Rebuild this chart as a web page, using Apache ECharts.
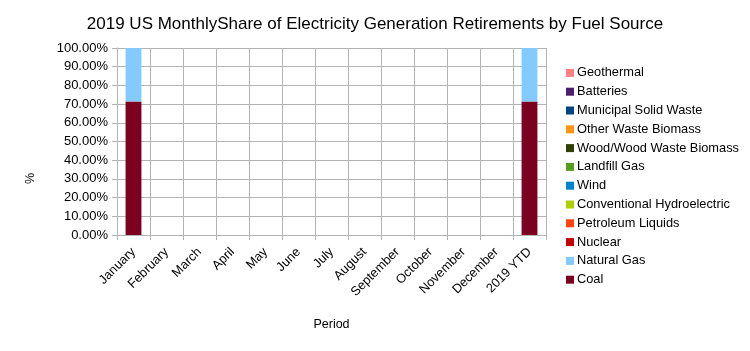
<!DOCTYPE html>
<html>
<head>
<meta charset="utf-8">
<script src="https://cdn.jsdelivr.net/npm/echarts@6/dist/echarts.min.js"></script>
<style>
  html, body { margin: 0; padding: 0; background: #fff; }
  #chart { width: 750px; height: 351px; }
</style>
</head>
<body>
<div id="chart"></div>
<script>
  // 类别
  var periods = ['January', 'February', 'March', 'April', 'May', 'June', 'July',
    'August', 'September', 'October', 'November', 'December', '2019 YTD'];

  // share by fuel (fraction of total), bottom of stack first
  var coal = [0.714, 0, 0, 0, 0, 0, 0, 0, 0, 0, 0, 0, 0.714];
  var naturalGas = [0.286, 0, 0, 0, 0, 0, 0, 0, 0, 0, 0, 0, 0.286];
  var nuclear = [0, 0, 0, 0, 0, 0, 0, 0, 0, 0, 0, 0, 0];
  var petroleumLiquids = [0, 0, 0, 0, 0, 0, 0, 0, 0, 0, 0, 0, 0];
  var hydro = [0, 0, 0, 0, 0, 0, 0, 0, 0, 0, 0, 0, 0];
  var wind = [0, 0, 0, 0, 0, 0, 0, 0, 0, 0, 0, 0, 0];
  var landfillGas = [0, 0, 0, 0, 0, 0, 0, 0, 0, 0, 0, 0, 0];
  var woodBiomass = [0, 0, 0, 0, 0, 0, 0, 0, 0, 0, 0, 0, 0];
  var otherBiomass = [0, 0, 0, 0, 0, 0, 0, 0, 0, 0, 0, 0, 0];
  var msw = [0, 0, 0, 0, 0, 0, 0, 0, 0, 0, 0, 0, 0];
  var batteries = [0, 0, 0, 0, 0, 0, 0, 0, 0, 0, 0, 0, 0];
  var geothermal = [0, 0, 0, 0, 0, 0, 0, 0, 0, 0, 0, 0, 0];

  var fuels = [
    { name: 'Coal', color: '#7e0021', data: coal },
    { name: 'Natural Gas', color: '#83caff', data: naturalGas },
    { name: 'Nuclear', color: '#c5000b', data: nuclear },
    { name: 'Petroleum Liquids', color: '#ff420e', data: petroleumLiquids },
    { name: 'Conventional Hydroelectric', color: '#aecf00', data: hydro },
    { name: 'Wind', color: '#0084d1', data: wind },
    { name: 'Landfill Gas', color: '#579d1c', data: landfillGas },
    { name: 'Wood/Wood Waste Biomass', color: '#314004', data: woodBiomass },
    { name: 'Other Waste Biomass', color: '#ff950e', data: otherBiomass },
    { name: 'Municipal Solid Waste', color: '#004586', data: msw },
    { name: 'Batteries', color: '#4b1f6f', data: batteries },
    { name: 'Geothermal', color: '#ff8080', data: geothermal }
  ];

  var font = 'Liberation Sans, Arial, sans-serif';
  var chart = echarts.init(document.getElementById('chart'));

  chart.setOption({
    animation: false,
    textStyle: { fontFamily: font },
    title: {
      text: '2019 US MonthlyShare of Electricity Generation Retirements by Fuel Source',
      left: 'center',
      top: 11,
      textStyle: { fontFamily: font, fontSize: 17, fontWeight: 'normal', color: '#000' }
    },
    // y axis title sits at the chart's vertical middle, not the plot's
    graphic: [{
      type: 'text',
      x: 24,
      y: 184,
      rotation: Math.PI / 2,
      style: { text: '%', font: '12.5px ' + font, fill: '#000' }
    }],
    legend: {
      orient: 'vertical',
      left: 561,
      top: 61,
      itemWidth: 8,
      itemHeight: 8,
      itemGap: 5,
      icon: 'rect',
      textStyle: { fontFamily: font, fontSize: 12.8, color: '#000', lineHeight: 13.8, padding: [0, 0, 0, -2] },
      data: fuels.map(function (f) { return f.name; }).reverse()
    },
    grid: { left: 117, right: 204, top: 48, bottom: 116 },
    xAxis: {
      type: 'category',
      data: periods,
      name: 'Period',
      nameLocation: 'middle',
      nameGap: 83,
      nameTextStyle: { fontFamily: font, fontSize: 12.5, color: '#000' },
      axisLine: { lineStyle: { color: '#b3b3b3' } },
      axisTick: { show: true, length: 5, lineStyle: { color: '#b3b3b3' } },
      splitLine: { show: true, lineStyle: { color: '#b3b3b3' } },
      axisLabel: { rotate: 45, fontFamily: font, fontSize: 12.8, color: '#000', margin: 15 }
    },
    yAxis: {
      type: 'value',
      min: 0,
      max: 1,
      interval: 0.1,
      axisLine: { show: true, lineStyle: { color: '#b3b3b3' } },
      axisTick: { show: true, length: 5, lineStyle: { color: '#b3b3b3' } },
      splitLine: { show: true, lineStyle: { color: '#b3b3b3' } },
      axisLabel: {
        fontFamily: font, fontSize: 13, color: '#000', margin: 9,
        formatter: function (v) { return (v * 100).toFixed(2) + '%'; }
      }
    },
    series: fuels.map(function (f) {
      return {
        name: f.name,
        type: 'bar',
        stack: 'share',
        barWidth: '48%',
        itemStyle: { color: f.color },
        data: f.data
      };
    })
  });
</script>
</body>
</html>
